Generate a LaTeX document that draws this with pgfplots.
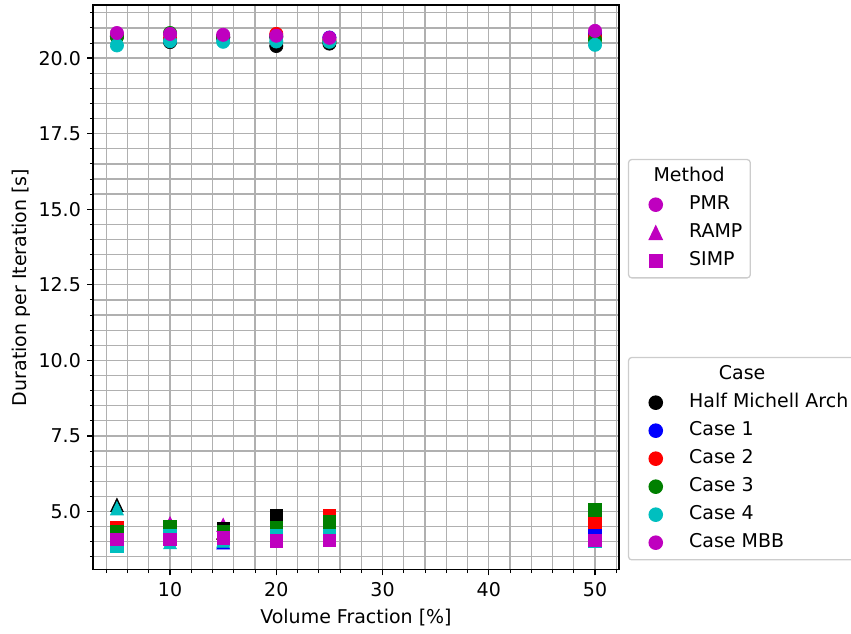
\documentclass[border=0pt]{standalone}
\usepackage{fontspec}
\setmainfont{DejaVu Sans}
\usepackage{pgfplots}
\pgfplotsset{compat=1.18}
\definecolor{mplgrid}{HTML}{B0B0B0}
\definecolor{mk}{rgb}{0,0,0}
\definecolor{mb}{rgb}{0,0,1}
\definecolor{mr}{rgb}{1,0,0}
\definecolor{mg}{rgb}{0,0.5,0}
\definecolor{mc}{rgb}{0,0.75,0.75}
\definecolor{mm}{rgb}{0.75,0,0.75}
\definecolor{legframe}{HTML}{CCCCCC}
\pgfplotsset{
  pmr/.style={only marks, mark=*, mark size=4.2pt, color=#1, mark options={draw=none, fill=#1}, forget plot},
  ramp/.style={only marks, mark=triangle*, mark size=4.7pt, color=#1, mark options={draw=none, fill=#1, yscale=1.2, yshift=-1.2pt}, forget plot},
  simp/.style={only marks, mark=square*, mark size=4pt, color=#1, mark options={draw=none, fill=#1}, forget plot},
  base/.style={
    at={(0,0)}, anchor=south west,
    scale only axis, width=332.4pt, height=357.1pt,
    xmin=2.75, xmax=52.25, ymin=3.07, ymax=21.76,
  },
  mylegend/.style={
    legend cell align=left,
    legend image code/.code={\path (0pt,0pt) (32.5pt,0pt); \draw[##1] plot coordinates {(13.8pt,0pt)};},
    legend style={anchor=north west, draw=legframe, rounded corners=2pt, fill=white, line width=0.8pt,
      nodes={text height=9pt, text depth=3pt, inner ysep=2.85pt},
      row sep=0pt,
      /tikz/every even column/.append style={column sep=6pt}},
  },
}
\begin{document}
\fontsize{12}{14.4}\selectfont
\begin{tikzpicture}
\begin{axis}[base, mylegend,
  legend style={at={(1.0171,0.377)}},
  xtick={10,20,30,40,50}, ytick={5,7.5,...,20},
  minor xtick={4,6,...,52}, minor ytick={3.5,4,...,21.5},
  grid=both,
  major grid style={mplgrid, line width=0.8pt},
  minor grid style={mplgrid, line width=0.8pt},
  tick align=outside, xtick pos=bottom, ytick pos=left,
  major tick length=3.5pt, minor tick length=2pt,
  every tick/.style={black, line width=0.8pt},
  every minor tick/.append style={line width=0.6pt},
  axis line style={line width=0.8pt},
  y tick label style={/pgf/number format/.cd, fixed, fixed zerofill, precision=1, assume math mode=true},
  x tick label style={/pgf/number format/assume math mode=true},
  xlabel={Volume Fraction [\%]}, ylabel={Duration per Iteration [s]},
  ylabel shift=-3pt,
]
% PMR
\addplot[pmr=mk] coordinates {(5,20.72)(10,20.53)(15,20.68)(20,20.40)(25,20.48)(50,20.72)};
\addplot[pmr=mb] coordinates {(5,20.74)(10,20.60)(15,20.70)(20,20.70)(25,20.68)(50,20.82)};
\addplot[pmr=mr] coordinates {(5,20.73)(10,20.65)(15,20.70)(20,20.80)(25,20.60)(50,20.70)};
\addplot[pmr=mg] coordinates {(5,20.70)(10,20.83)(15,20.68)(20,20.70)(25,20.55)(50,20.60)};
\addplot[pmr=mc] coordinates {(5,20.42)(10,20.56)(15,20.54)(20,20.55)(25,20.54)(50,20.44)};
\addplot[pmr=mm] coordinates {(5,20.83)(10,20.80)(15,20.77)(20,20.74)(25,20.67)(50,20.90)};
% RAMP
\addplot[ramp=mk] coordinates {(5,5.22)(10,4.30)(15,4.30)};
\addplot[ramp=mb] coordinates {(5,4.25)(10,4.10)(15,3.98)};
\addplot[ramp=mr] coordinates {(5,4.35)(10,4.30)(15,4.30)};
\addplot[ramp=mg] coordinates {(5,4.30)(10,4.40)(15,4.30)};
\addplot[ramp=mc] coordinates {(5,5.11)(10,3.99)(15,4.04)};
\addplot[ramp=mm] coordinates {(5,4.20)(10,4.61)(15,4.56)};
% SIMP
\addplot[simp=mk] coordinates {(5,4.30)(10,4.30)(15,4.45)(20,4.88)(25,4.40)(50,4.35)};
\addplot[simp=mb] coordinates {(5,4.10)(10,4.10)(15,4.20)(20,4.20)(25,4.25)(50,4.30)};
\addplot[simp=mr] coordinates {(5,4.47)(10,4.30)(15,4.30)(20,4.40)(25,4.88)(50,4.67)};
\addplot[simp=mg] coordinates {(5,4.35)(10,4.50)(15,4.35)(20,4.48)(25,4.65)(50,5.05)};
\addplot[simp=mc] coordinates {(5,3.87)(10,4.19)(15,4.10)(20,4.20)(25,4.21)(50,4.04)};
\addplot[simp=mm] coordinates {(5,4.075)(10,4.08)(15,4.12)(20,4.02)(25,4.05)(50,4.05)};
% Case legend
\addlegendimage{empty legend}
\addlegendentry{\hspace*{33.5pt}\makebox[0pt][c]{Case}}
\addlegendimage{only marks, mark=*, mark size=4.2pt, mk, mark options={draw=none, fill=mk}}
\addlegendentry{Half Michell Arch}
\addlegendimage{only marks, mark=*, mark size=4.2pt, mb, mark options={draw=none, fill=mb}}
\addlegendentry{Case 1}
\addlegendimage{only marks, mark=*, mark size=4.2pt, mr, mark options={draw=none, fill=mr}}
\addlegendentry{Case 2}
\addlegendimage{only marks, mark=*, mark size=4.2pt, mg, mark options={draw=none, fill=mg}}
\addlegendentry{Case 3}
\addlegendimage{only marks, mark=*, mark size=4.2pt, mc, mark options={draw=none, fill=mc}}
\addlegendentry{Case 4}
\addlegendimage{only marks, mark=*, mark size=4.2pt, mm, mark options={draw=none, fill=mm}}
\addlegendentry{Case MBB}
\end{axis}
\begin{axis}[base, mylegend, hide axis,
  legend style={at={(1.0171,0.7274)}},
]
\addplot[draw=none, forget plot] coordinates {(5,10)};
\addlegendimage{empty legend}
\addlegendentry{\makebox[0pt][c]{Method}}
\addlegendimage{only marks, mark=*, mark size=4.2pt, mm, mark options={draw=none, fill=mm}}
\addlegendentry{PMR}
\addlegendimage{only marks, mark=triangle*, mark size=4.7pt, mm, mark options={draw=none, fill=mm, yscale=1.2, yshift=-1.2pt}}
\addlegendentry{RAMP}
\addlegendimage{only marks, mark=square*, mark size=4pt, mm, mark options={draw=none, fill=mm}}
\addlegendentry{SIMP}
\end{axis}
\pgfresetboundingbox
\path[use as bounding box] (-58.8pt,-40.4pt) rectangle (479.1pt,360.2pt);
\end{tikzpicture}
\end{document}
